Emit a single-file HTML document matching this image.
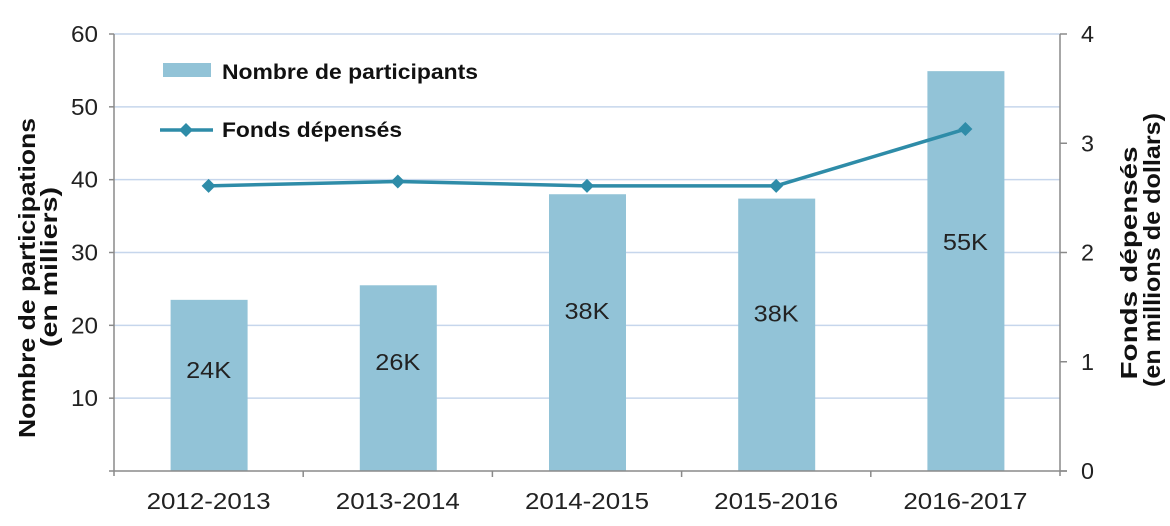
<!DOCTYPE html>
<html><head><meta charset="utf-8"><style>
html,body{margin:0;padding:0;background:#fff}
svg{display:block;font-family:"Liberation Sans",Arial,sans-serif}
</style></head><body>
<svg id="chart" width="1170" height="526" viewBox="0 0 1170 526"></svg>
<script>
const categories=["2012-2013","2013-2014","2014-2015","2015-2016","2016-2017"];
const participants=[23.5,25.5,38,37.4,54.9];
const barLabels=["24K","26K","38K","38K","55K"];
const funds=[2.61,2.65,2.61,2.61,3.13];
const leftTicks=[10,20,30,40,50,60];
const rightTicks=[0,1,2,3,4];

const X0=114,X1=1060,Y0=471,Y1=34;
const svg=document.getElementById('chart');
const NS='http://www.w3.org/2000/svg';
function mk(tag,attrs,parent){const e=document.createElementNS(NS,tag);for(const k in attrs)e.setAttribute(k,attrs[k]);(parent||svg).appendChild(e);return e;}
const yL=v=>Y0-(v/60)*(Y0-Y1);
const yR=v=>Y0-(v/4)*(Y0-Y1);
const band=(X1-X0)/categories.length;
const xC=i=>X0+band*(i+0.5);

// gridlines
leftTicks.forEach(t=>{
  const l=mk('line',{x1:X0,x2:X1,y1:yL(t),y2:yL(t),stroke:'#c6d6ec','stroke-width':1.5});
  
  
});
// bars
participants.forEach((v,i)=>{
  const r=mk('rect',{x:xC(i)-38,y:yL(v),width:77,height:Y0-yL(v),fill:'#92c3d7'});
  
  
  const t=mk('text',{x:xC(i),y:yL(v*0.56)+3,'text-anchor':'middle','font-size':23,fill:'#222',textLength:45,lengthAdjust:'spacingAndGlyphs'});
  t.textContent=barLabels[i];
  
  
});
// axes
const ax=mk('g',{stroke:'#8a8a8a','stroke-width':1.5});


mk('line',{x1:X0,x2:X0,y1:Y1,y2:Y0+5},ax);
mk('line',{x1:X1,x2:X1,y1:Y1,y2:Y0+5},ax);
mk('line',{x1:X0-5,x2:X1+7,y1:Y0,y2:Y0},ax);
leftTicks.forEach(t=>mk('line',{x1:X0-5,x2:X0,y1:yL(t),y2:yL(t)},ax));
rightTicks.forEach(t=>mk('line',{x1:X1,x2:X1+7,y1:yR(t),y2:yR(t)},ax));
for(let i=1;i<categories.length;i++)mk('line',{x1:X0+band*i,x2:X0+band*i,y1:Y0,y2:Y0+6},ax);
// tick labels
leftTicks.forEach(t=>{
  const e=mk('text',{x:98,y:yL(t)+8,'text-anchor':'end','font-size':23,fill:'#222',textLength:27,lengthAdjust:'spacingAndGlyphs'});
  e.textContent=t;
  
  
});
rightTicks.forEach(t=>{
  const e=mk('text',{x:1081,y:yR(t)+8,'text-anchor':'start','font-size':23,fill:'#222',textLength:13,lengthAdjust:'spacingAndGlyphs'});
  e.textContent=t;
  
  
});
categories.forEach((c,i)=>{
  const e=mk('text',{x:xC(i),y:509,'text-anchor':'middle','font-size':23,fill:'#222',textLength:124,lengthAdjust:'spacingAndGlyphs'});
  e.textContent=c;
  
  
});
// line
const pts=funds.map((v,i)=>xC(i)+','+yR(v)).join(' ');
const pl=mk('polyline',{points:pts,fill:'none',stroke:'#2e8ca8','stroke-width':3.5});


funds.forEach((v,i)=>{
  const x=xC(i),y=yR(v);
  const d=mk('polygon',{points:`${x},${y-7} ${x+7},${y} ${x},${y+7} ${x-7},${y}`,fill:'#2e8ca8'});
  
  
});
// legend
const lg=mk('g',{});


const ls=mk('rect',{x:163,y:63,width:48,height:14,fill:'#92c3d7'},lg);


const lt1=mk('text',{x:222,y:79,'font-size':21,'font-weight':'bold',fill:'#111',textLength:256,lengthAdjust:'spacingAndGlyphs'},lg);
lt1.textContent='Nombre de participants';


mk('line',{x1:160,x2:213,y1:130,y2:130,stroke:'#2e8ca8','stroke-width':3.5},lg);
mk('polygon',{points:'186,123 193,130 186,137 179,130',fill:'#2e8ca8'},lg);
const lt2=mk('text',{x:222,y:137,'font-size':21,'font-weight':'bold',fill:'#111',textLength:180,lengthAdjust:'spacingAndGlyphs'},lg);
lt2.textContent='Fonds dépensés';


// axis titles
const yt=mk('text',{transform:'rotate(-90)','text-anchor':'middle','font-size':23,'font-weight':'bold',fill:'#111'});


mk('tspan',{x:-278,y:35,textLength:320,lengthAdjust:'spacingAndGlyphs'},yt).textContent='Nombre de participations';
mk('tspan',{x:-267,y:57,textLength:160,lengthAdjust:'spacingAndGlyphs'},yt).textContent='(en milliers)';
const rt=mk('text',{transform:'rotate(-90)','text-anchor':'middle','font-size':23,'font-weight':'bold',fill:'#111'});


mk('tspan',{x:-263,y:1137,textLength:233,lengthAdjust:'spacingAndGlyphs'},rt).textContent='Fonds dépensés';
mk('tspan',{x:-250,y:1160,textLength:274,lengthAdjust:'spacingAndGlyphs'},rt).textContent='(en millions de dollars)';
</script>
</body></html>
